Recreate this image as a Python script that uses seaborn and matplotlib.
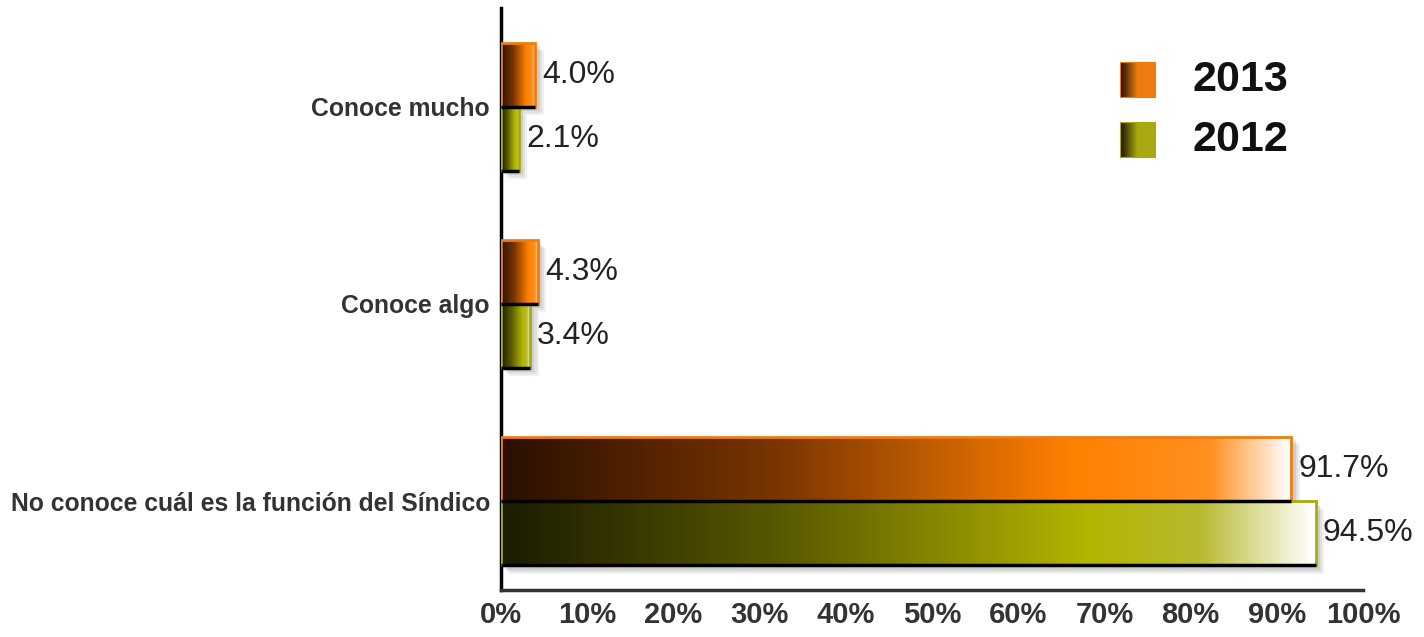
import numpy as np
import pandas as pd
import matplotlib
matplotlib.use('Agg')
import matplotlib.pyplot as plt
import matplotlib.transforms as mtransforms
from matplotlib.colors import LinearSegmentedColormap
from matplotlib.patches import Rectangle
import seaborn as sns

# ── data ───────────────────────────────────────────────────────
categories = ['Conoce mucho', 'Conoce algo',
              'No conoce cuál es la función del Síndico']
years = ['2013', '2012']
values_2013 = [4.0, 4.3, 91.7]
values_2012 = [2.1, 3.4, 94.5]
x_ticks = list(range(0, 101, 10))

df = pd.DataFrame({
    'categoria': categories * 2,
    'anio': [years[0]] * 3 + [years[1]] * 3,
    'valor': values_2013 + values_2012,
})

# ── style ──────────────────────────────────────────────────────
sns.set_style('white')
plt.rcParams['font.family'] = ['Liberation Sans', 'DejaVu Sans']

edge_cols = {'2013': '#f07c10', '2012': '#a8aa10'}
cmaps = {
    '2013': LinearSegmentedColormap.from_list(
        'c13', [(0, '#2a1000'), (0.35, '#7a3500'), (0.72, '#ff8000'),
                (0.9, '#ff9020'), (1.0, '#ffffff')]),
    '2012': LinearSegmentedColormap.from_list(
        'c12', [(0, '#1c1c00'), (0.35, '#5a5a00'), (0.72, '#b3b500'),
                (0.86, '#b8ba30'), (1.0, '#ffffff')]),
}

fig = plt.figure(figsize=(14.24, 6.37), dpi=100)
ax = fig.add_axes([501 / 1424, 47 / 637, 862 / 1424, 582 / 637])

sns.barplot(data=df, y='categoria', x='valor', hue='anio', hue_order=years,
            orient='h', width=0.65, palette=edge_cols, legend=False,
            ax=ax, zorder=3)

ax.set_xlim(0, 100)
ax.set_ylim(2.45, -0.5)

# gradient fill, shadow and value label on every bar
for year, cont in zip(years, ax.containers):
    for bar, val in zip(cont.patches, cont.datavalues):
        x0, y0 = bar.get_x(), bar.get_y()
        w, h = bar.get_width(), bar.get_height()
        bar.set_facecolor('none')
        bar.set_edgecolor(edge_cols[year])
        bar.set_linewidth(2)

        # soft shadow: a few stacked translucent rectangles
        for off, alpha in [(6, 0.12), (4.5, 0.15), (3, 0.2)]:
            shadow_tr = mtransforms.offset_copy(ax.transData, fig=fig,
                                                x=off, y=-off, units='points')
            ax.add_patch(Rectangle((x0, y0), w, h, transform=shadow_tr,
                                   facecolor='#888888', alpha=alpha,
                                   edgecolor='none', zorder=1))
        grad = np.linspace(0, 1, 256).reshape(1, -1)
        img = ax.imshow(grad, cmap=cmaps[year], aspect='auto',
                        extent=[x0, x0 + w, y0 + h, y0], zorder=2,
                        interpolation='bilinear')
        img.set_clip_path(bar)
        ax.plot([x0, x0 + w], [y0 + h, y0 + h], color='black', lw=2.5,
                zorder=4, solid_capstyle='butt')
        ax.text(x0 + w + 0.8, y0 + h / 2, f'{val:.1f}%', va='center',
                ha='left', fontsize=23, color='#222222', zorder=5)

# axes look
ax.set_xticks(x_ticks)
ax.set_xticklabels([f'{t}%' for t in x_ticks])
ax.tick_params(axis='x', length=0, pad=8, labelsize=21, labelcolor='#333333')
ax.tick_params(axis='y', length=0, pad=8, labelsize=17.8, labelcolor='#333333')
for lab in ax.get_xticklabels() + ax.get_yticklabels():
    lab.set_fontweight('bold')
ax.set_xlabel('')
ax.set_ylabel('')
for side in ['top', 'right']:
    ax.spines[side].set_visible(False)
ax.spines['left'].set_linewidth(2.5)
ax.spines['left'].set_color('black')
ax.spines['bottom'].set_linewidth(2.5)
ax.spines['bottom'].set_color('#333333')

# legend with gradient squares
grad = np.linspace(0, 1, 64).reshape(1, -1)
for year, y_bot, y_txt in [('2013', 1 - 97 / 637, 1 - 80 / 637),
                           ('2012', 1 - 157 / 637, 1 - 140 / 637)]:
    lax = fig.add_axes([1120 / 1424, y_bot, 35 / 1424, 35 / 637])
    lax.imshow(grad, cmap=LinearSegmentedColormap.from_list(
        'l', ['#1c1000', edge_cols[year], edge_cols[year]]), aspect='auto')
    lax.set_xticks([])
    lax.set_yticks([])
    for s in lax.spines.values():
        s.set_edgecolor(edge_cols[year])
    fig.text(1192 / 1424, y_txt, year, fontsize=31, fontweight='bold',
             va='center', ha='left', color='#111111')

plt.savefig('out.png', dpi=100)
